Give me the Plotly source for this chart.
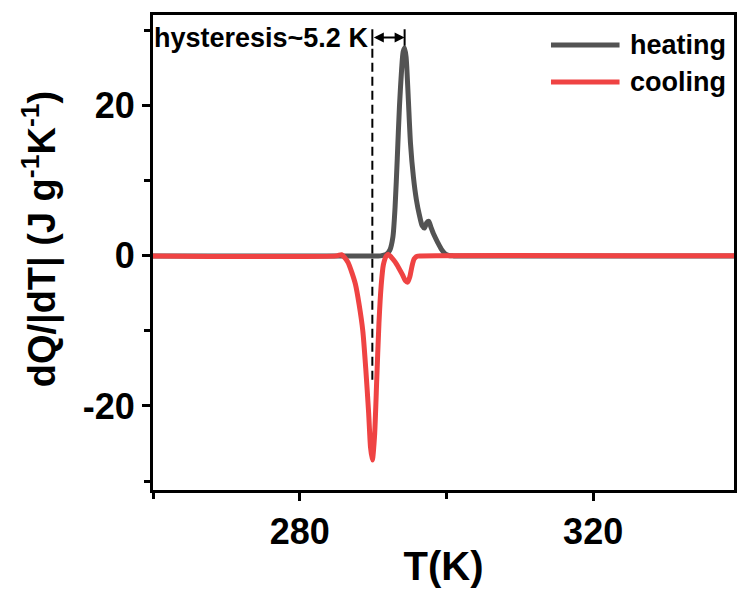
import plotly.graph_objects as go

# Heat-flow traces (temperature in K, |dQ/dT| in J g^-1 K^-1)
temp_heating = [260.0, 288.0, 291.0, 291.8, 292.3, 292.7, 293.0, 293.3, 293.6, 293.9,
                294.1, 294.3, 294.5, 294.8, 295.1, 295.5, 295.9, 296.3, 296.7, 297.0,
                297.3, 297.6, 297.9, 298.3, 298.8, 299.3, 299.8, 300.3, 301.0, 340.0]
dqdt_heating = [0.0, 0.0, 0.0, 0.2, 0.8, 2.5, 6.5, 13.0, 20.0, 25.0,
                27.2, 27.7, 26.5, 21.0, 15.0, 10.5, 7.5, 5.5, 4.0, 3.7,
                4.4, 4.6, 3.8, 2.8, 1.8, 0.9, 0.3, 0.05, 0.0, 0.0]

temp_cooling = [260.0, 285.0, 285.7, 286.1, 286.6, 287.1, 287.6, 288.1, 288.6, 289.0,
                289.4, 289.65, 289.9, 290.2, 290.5, 290.8, 291.1, 291.4, 291.8, 292.1,
                292.5, 293.0, 293.5, 294.0, 294.4, 294.7, 295.0, 295.3, 295.6, 296.0,
                296.5, 340.0]
dqdt_cooling = [0.0, 0.0, 0.15, -0.2, -0.9, -2.2, -3.8, -6.5, -10.0, -15.0,
                -21.0, -25.5, -27.2, -24.0, -16.5, -9.0, -4.0, -1.2, 0.0, 0.2,
                -0.2, -0.8, -1.6, -2.5, -3.3, -3.5, -2.8, -1.4, -0.4, -0.05,
                0.0, 0.0]

x_tick_vals = [280, 320]
y_tick_vals = [-20, 0, 20]
series_names = ["heating", "cooling"]
hysteresis_label = "hysteresis~5.2 K"
x_title = "T(K)"
y_title = "dQ/|dT| (J g<sup>-1</sup>K<sup>-1</sup>)"

HEAT_COLOR = "#535353"
COOL_COLOR = "#EF4343"
FONT = "Arial, 'Liberation Sans', sans-serif"

# transition peaks: heating maximum and cooling minimum
heat_peak_T = temp_heating[dqdt_heating.index(max(dqdt_heating))]
cool_peak_T = temp_cooling[dqdt_cooling.index(min(dqdt_cooling))]

fig = go.Figure()
fig.add_trace(go.Scatter(
    x=temp_heating, y=dqdt_heating, mode="lines", name=series_names[0],
    line=dict(color=HEAT_COLOR, width=5, shape="spline", smoothing=0.7),
    showlegend=False))
fig.add_trace(go.Scatter(
    x=temp_cooling, y=dqdt_cooling, mode="lines", name=series_names[1],
    line=dict(color=COOL_COLOR, width=5, shape="spline", smoothing=0.7),
    showlegend=False))

arrow_y = 29.1

# dashed guide through the cooling peak
fig.add_shape(type="line", x0=cool_peak_T, x1=cool_peak_T, y0=-16.5, y1=27.6,
              xref="x", yref="y", layer="below",
              line=dict(color="black", width=2, dash="9px,5px"))
# end bars of the hysteresis span
for xt in (cool_peak_T, heat_peak_T):
    fig.add_shape(type="line", x0=xt, x1=xt, y0=28.0, y1=30.2, xref="x", yref="y",
                  line=dict(color="black", width=2))
# double-headed arrow between the two peaks
fig.add_annotation(x=heat_peak_T, y=arrow_y, ax=cool_peak_T, ay=arrow_y,
                   xref="x", yref="y", axref="x", ayref="y", text="",
                   showarrow=True, arrowhead=2, startarrowhead=2,
                   arrowside="end+start", arrowsize=1.0, startarrowsize=1.0,
                   arrowwidth=2, arrowcolor="black", standoff=0, startstandoff=0)
fig.add_annotation(x=cool_peak_T, y=arrow_y, xref="x", yref="y",
                   text=hysteresis_label, showarrow=False, xanchor="right",
                   yanchor="middle", xshift=-2,
                   font=dict(family=FONT, size=27, color="black", weight="bold"))

# legend drawn as line samples + labels in the upper right
legend_rows = [(0.937, HEAT_COLOR, series_names[0]), (0.859, COOL_COLOR, series_names[1])]
for yy, col, name in legend_rows:
    fig.add_shape(type="line", x0=0.685, x1=0.803, y0=yy, y1=yy, xref="paper", yref="paper",
                  line=dict(color=col, width=5))
    fig.add_annotation(x=0.817, y=yy, xref="paper", yref="paper", text=name,
                       showarrow=False, xanchor="left", yanchor="middle",
                       font=dict(family=FONT, size=27, color="black", weight="bold"))

# y-axis title placed as a rotated annotation
fig.add_annotation(x=-0.196, y=0.528, xref="paper", yref="paper", text=y_title,
                   textangle=-90, showarrow=False, xanchor="center", yanchor="middle",
                   font=dict(family=FONT, size=38, color="black", weight="bold"))

axis_common = dict(
    showgrid=False, zeroline=False, showline=True, linecolor="black", linewidth=3,
    mirror=True, ticks="outside", ticklen=8, tickwidth=3, tickcolor="black",
    tickfont=dict(family=FONT, size=36, color="black", weight="bold"),
)

fig.update_xaxes(
    range=[260, 339.2], tickmode="array", tickvals=x_tick_vals,
    ticktext=[str(v) for v in x_tick_vals],
    minor=dict(tickmode="array", tickvals=[260, 300, 340], ticks="outside",
               ticklen=6, tickwidth=3, tickcolor="black"),
    title=dict(text=x_title, standoff=1,
               font=dict(family=FONT, size=40, color="black", weight="bold")),
    **axis_common)
fig.update_yaxes(
    range=[-31.2, 32.1], tickmode="array", tickvals=y_tick_vals,
    ticktext=[str(v) for v in y_tick_vals],
    minor=dict(tickmode="array", tickvals=[-30, -10, 10, 30], ticks="outside",
               ticklen=6, tickwidth=3, tickcolor="black"),
    **axis_common)

fig.update_layout(
    width=740, height=595,
    margin=dict(l=153, r=3, t=15, b=105),
    paper_bgcolor="white", plot_bgcolor="white",
    showlegend=False,
)

fig.write_html("out.html")
